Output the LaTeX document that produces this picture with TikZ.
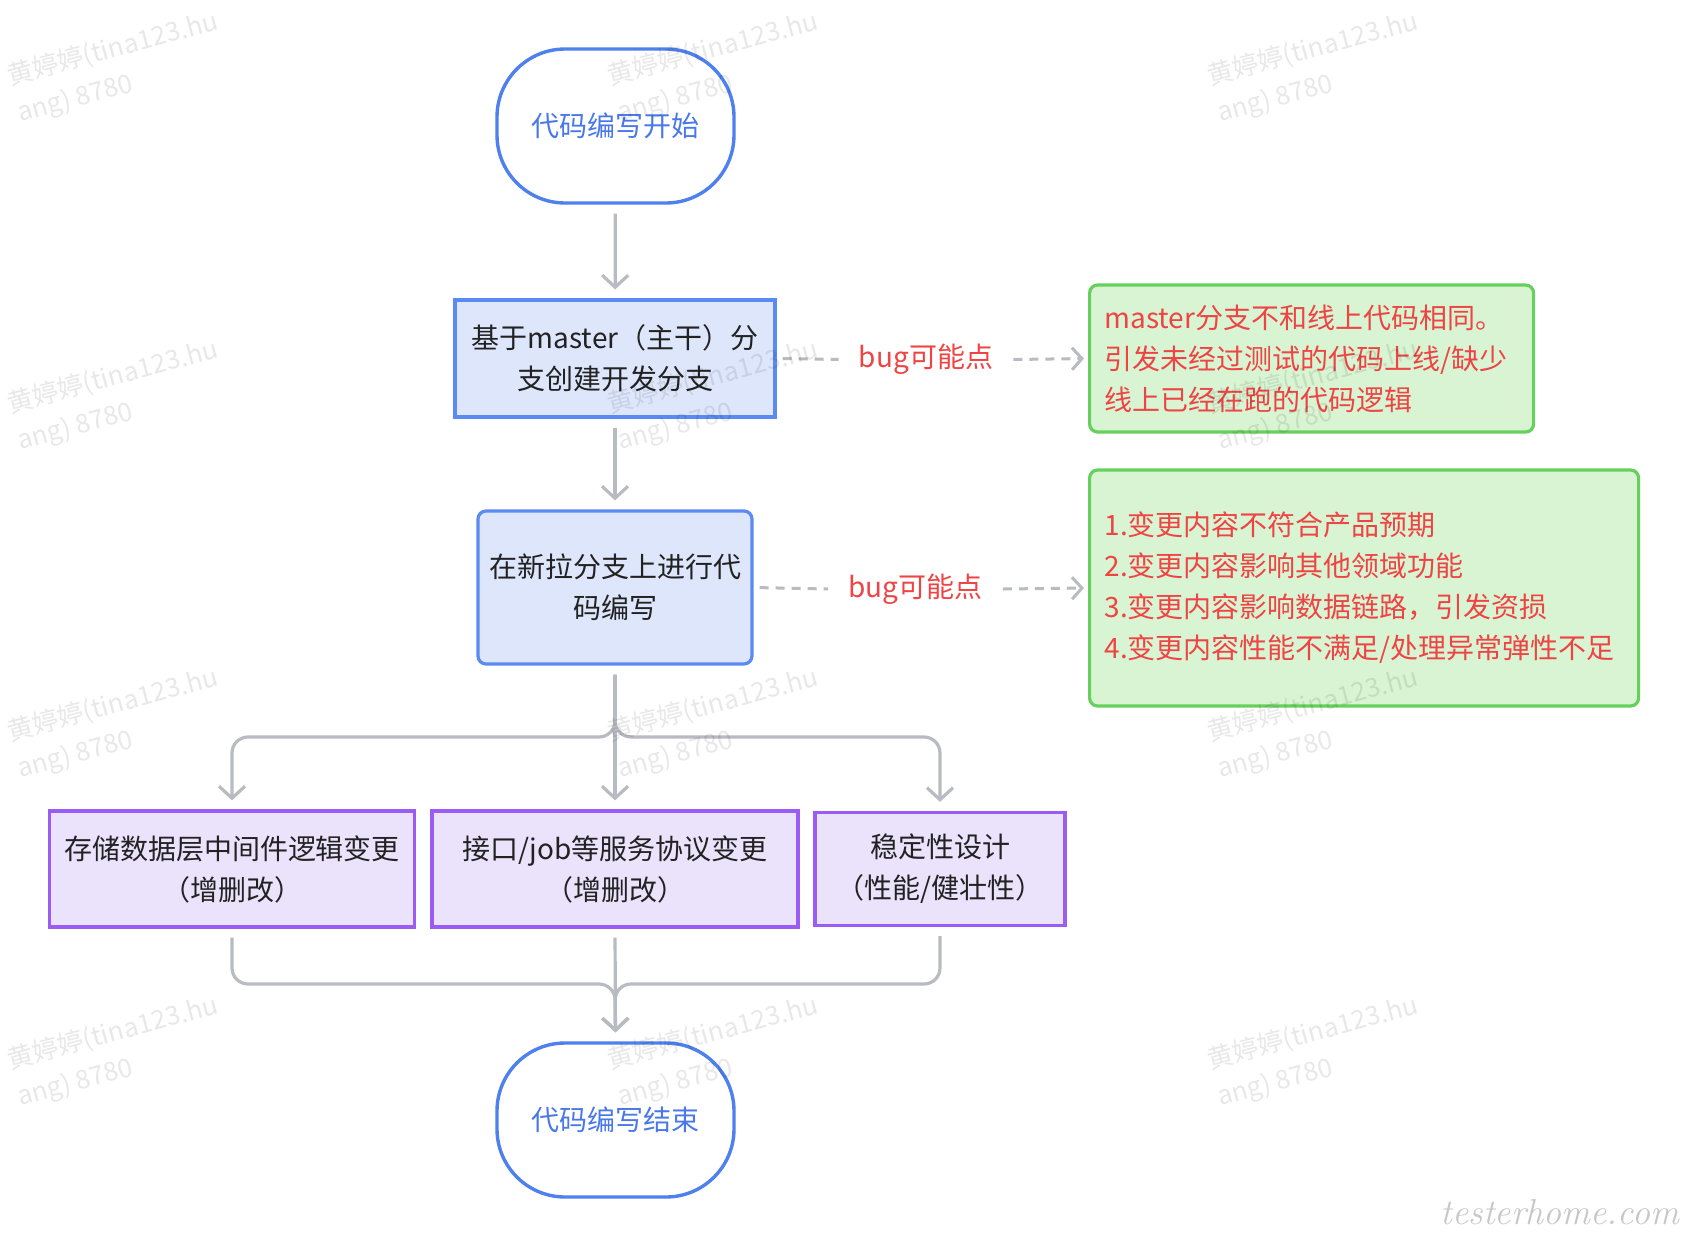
\documentclass[tikz,border=0pt]{standalone}
\usepackage{fontspec}
\newfontfamily\cjk{Noto Sans CJK SC}
\usetikzlibrary{arrows.meta}
\definecolor{termline}{HTML}{4E80EE}
\definecolor{termtext}{HTML}{4A78E8}
\definecolor{bluefill}{HTML}{DDE6FB}
\definecolor{blueline}{HTML}{5A8AF2}
\definecolor{purpleline}{HTML}{9A5CF4}
\definecolor{purplefill}{HTML}{EBE2FB}
\definecolor{greenline}{HTML}{66D05C}
\definecolor{greenfill}{HTML}{D9F4D3}
\definecolor{redtext}{HTML}{EE4444}
\definecolor{conngray}{HTML}{B8BBC1}
\definecolor{textdark}{HTML}{222222}
\begin{document}
\begin{tikzpicture}[x=0.5pt,y=-0.5pt,
  txt/.style={font=\cjk\fontsize{14}{20.5}\selectfont},
  term/.style={txt, draw=termline, line width=1.7pt, fill=white, minimum width=118.5pt, minimum height=77pt, rounded corners=34pt, text=termtext},
  bluebox/.style={txt, draw=blueline, fill=bluefill, line width=1.6pt, align=center, text=textdark},
  purplebox/.style={txt, draw=purpleline, fill=purplefill, line width=1.6pt, align=center, text=textdark},
  greenbox/.style={txt, draw=greenline, fill=greenfill, line width=1.6pt, rounded corners=4pt, align=left, text=redtext, inner xsep=7.5pt, anchor=west},
  conn/.style={draw=conngray, line width=1.6pt, -{Straight Barb[length=6pt,width=13pt]}, shorten <=4.5pt, shorten >=4.5pt},
  dashconn/.style={draw=conngray, line width=1.5pt, dash pattern=on 4.5pt off 3.5pt},
  dasharrow/.style={dashconn, -{Straight Barb[length=5pt,width=11pt]}},
  buglbl/.style={txt, text=redtext, inner xsep=10pt},
  wm/.style={font=\cjk\fontsize{13}{19}\selectfont, text=black, opacity=0.09, rotate=15, align=left}
]
\useasboundingbox[fill=white] (0,0) rectangle (1688,1248);

% main flow
\node[term] (start) at (615.5,126) {代码编写开始};
\node[bluebox, minimum width=160pt, minimum height=58.5pt] (box1) at (615,358.5) {基于master（主干）分\\支创建开发分支};
\node[bluebox, minimum width=137pt, minimum height=76.5pt, rounded corners=4pt] (box2) at (615,587.5) {在新拉分支上进行代\\码编写};
\node[purplebox, minimum width=182.5pt, minimum height=58pt] (pa) at (232,869) {存储数据层中间件逻辑变更\\（增删改）};
\node[purplebox, minimum width=183pt, minimum height=58pt] (pb) at (615,869) {接口/job等服务协议变更\\（增删改）};
\node[purplebox, minimum width=125pt, minimum height=56.5pt] (pc) at (940,869) {稳定性设计\\（性能/健壮性）};
\node[term] (finish) at (615.5,1120) {代码编写结束};

% side notes
\node[greenbox, text width=207pt, minimum height=73.5pt] (green1) at (1088,358.5) {master分支不和线上代码相同。\\引发未经过测试的代码上线/缺少\\线上已经在跑的代码逻辑};
\node[greenbox, text width=259.5pt, minimum height=118pt] (green2) at (1088,588) {1.变更内容不符合产品预期\\2.变更内容影响其他领域功能\\3.变更内容影响数据链路，引发资损\\4.变更内容性能不满足/处理异常弹性不足};
\node[buglbl] (bug1) at (926,359.5) {bug可能点};
\node[buglbl] (bug2) at (915.5,589) {bug可能点};

\coordinate (split) at (615,737);
\coordinate (merge) at (615,984);

% connectors
\draw[conn] (start) -- (box1);
\draw[conn] (box1) -- (box2);
\draw[conn, rounded corners=8pt] (box2.south) -- (split) -| (pa.north);
\draw[conn, rounded corners=8pt] (box2.south) -- (split) -| (pc.north);
\draw[conn] (box2.south) -- (pb.north);
\draw[conn, rounded corners=8pt] (pa.south) |- (merge) -- (finish.north);
\draw[conn, rounded corners=8pt] (pc.south) |- (merge) -- (finish.north);
\draw[conn] (pb.south) -- (finish.north);

\draw[dashconn, shorten <=3pt] (box1.east) -- (bug1.west);
\draw[dasharrow, shorten >=2pt] (bug1.east) -- (green1.west);
\draw[dashconn, shorten <=3pt] (box2.east) -- (bug2.west);
\draw[dasharrow, shorten >=2pt] (bug2.east) -- (green2.west);

% watermarks
\foreach \i/\dx in {0/0,1/600,2/1200}{
  \foreach \j/\dy in {0/0,1/328,2/656,3/984}{
    \node[wm] (wm\i\j) at (118+\dx,68+\dy) {黄婷婷(tina123.hu\\ang) 8780};
  }
}
\node[text=black!22, font=\itshape\fontsize{18}{20}\selectfont, anchor=east] (sig) at (1686,1212) {testerhome.com};
\end{tikzpicture}
\end{document}
